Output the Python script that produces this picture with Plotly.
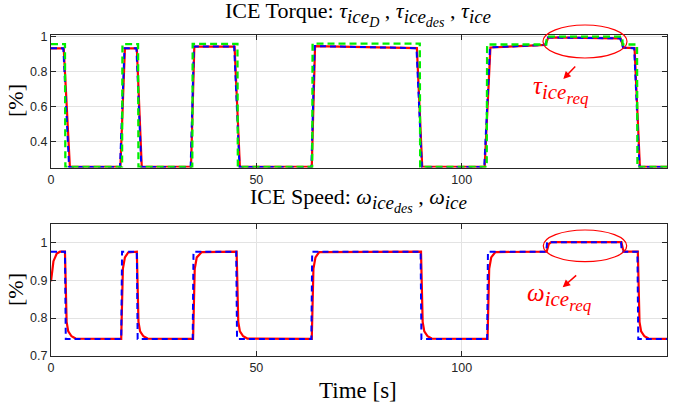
import plotly.graph_objects as go

# ---------------- data ----------------
# Torque plot
t_tauD = [0, 3.4, 3.5, 17.3, 17.4, 21.2, 21.3, 34.4, 34.5, 45.4, 45.5, 63.6, 63.7,
          89.8, 89.9, 106.1, 106.2, 120.6, 120.7, 139.1, 139.2, 142.7, 142.8, 150]
tau_iceD = [0.957, 0.957, 0.257, 0.257, 0.957, 0.957, 0.257, 0.257, 0.958, 0.958, 0.257, 0.257, 0.96,
            0.96, 0.257, 0.257, 0.955, 0.955, 1.0, 1.0, 0.955, 0.955, 0.257, 0.257]

t_tauDes = [0, 3.0, 4.4, 16.8, 17.9, 20.8, 22.0, 34.0, 34.8, 44.6, 45.9, 63.4, 64.2,
            89.0, 90.3, 105.5, 106.9, 120.3, 121.0, 138.6, 139.3, 142.0, 143.3, 150]
tau_ice_des = [0.933, 0.933, 0.257, 0.257, 0.933, 0.933, 0.257, 0.257, 0.943, 0.943, 0.257, 0.257, 0.946,
               0.934, 0.257, 0.257, 0.938, 0.953, 0.995, 0.99, 0.937, 0.934, 0.257, 0.257]

t_tau = [0, 3.1, 4.6, 16.9, 18.0, 20.9, 22.1, 34.1, 34.9, 44.7, 46.0, 63.5, 64.3,
         89.1, 90.4, 105.6, 107.0, 120.4, 121.1, 138.7, 139.4, 142.1, 143.4, 150]
tau_ice = [0.933, 0.933, 0.257, 0.257, 0.933, 0.933, 0.257, 0.257, 0.943, 0.943, 0.257, 0.257, 0.946,
           0.934, 0.257, 0.257, 0.938, 0.953, 0.995, 0.99, 0.937, 0.934, 0.257, 0.257]

# Speed plot
t_wDes = [0, 3.4, 3.6, 17.1, 17.3, 20.9, 21.1, 34.5, 34.7, 45.1, 45.3, 63.4, 63.6,
          90.0, 90.2, 106.2, 106.4, 120.6, 120.8, 138.8, 139.0, 142.8, 143.0, 150]
w_ice_des = [0.975, 0.975, 0.745, 0.745, 0.975, 0.975, 0.745, 0.745, 0.975, 0.975, 0.745, 0.745, 0.975,
             0.975, 0.745, 0.745, 0.975, 0.975, 1.0, 1.0, 0.975, 0.975, 0.745, 0.745]

t_w = [0, 0.6, 1.4, 2.2, 3.4, 3.8, 4.2, 5.0, 6.0, 17.1, 17.5, 18.0, 18.8, 20.9, 21.3, 21.7, 22.5, 23.5,
       34.6, 35.0, 35.5, 36.7, 45.2, 45.6, 46.0, 46.8, 47.8, 63.5, 63.9, 64.4, 65.3, 90.1, 90.5, 90.9,
       91.7, 92.7, 106.3, 106.7, 107.2, 108.2, 120.7, 121.2, 121.8, 138.9, 139.3, 139.8, 142.9, 143.3,
       143.7, 144.5, 145.5, 150]
w_ice = [0.897, 0.95, 0.97, 0.975, 0.975, 0.79, 0.765, 0.752, 0.746, 0.745, 0.93, 0.96, 0.973, 0.975,
         0.79, 0.765, 0.752, 0.746, 0.745, 0.93, 0.96, 0.974, 0.975, 0.79, 0.765, 0.752, 0.746, 0.745,
         0.93, 0.96, 0.974, 0.975, 0.79, 0.765, 0.752, 0.746, 0.745, 0.93, 0.96, 0.974, 0.975, 0.995, 1.0,
         1.0, 0.98, 0.975, 0.975, 0.79, 0.765, 0.752, 0.746, 0.745]

x_ticks = [0, 50, 100, 150]
y1_ticks = [0.4, 0.6, 0.8, 1]
y1_ticktext = ["0.4", "0.6", "0.8", "1"]
y2_ticks = [0.7, 0.8, 0.9, 1]
y2_ticktext = ["0.7", "0.8", "0.9", "1"]

# ---------------- layout helpers ----------------
W, H = 675, 410
ML, MR, MT, MB = 51, 8, 35, 54
PW, PH = W - ML - MR, H - MT - MB
TOP_BOTTOM_PX, BOT_TOP_PX = 167.5, 224


def px(x):
    return (x - ML) / PW


def py(y):
    return (H - MB - y) / PH


def sym(base, sub1, sub2=None, s1=19, s2=14):
    inner = ""
    if sub2:
        inner = f"<sub><span style='font-size:{s2}px'><i>{sub2}</i></span></sub>"
    return f"<i>{base}</i><sub><span style='font-size:{s1}px'><i>{sub1}</i>{inner}</span></sub>"


serif = "Liberation Serif"
sans = "Liberation Sans"
red, blue, green = "#ff0000", "#0000ff", "#00ee00"

fig = go.Figure()
fig.add_trace(go.Scatter(x=t_tau, y=tau_ice, mode="lines", line=dict(color=red, width=2.2),
                         xaxis="x", yaxis="y", showlegend=False))
fig.add_trace(go.Scatter(x=t_tauDes, y=tau_ice_des, mode="lines",
                         line=dict(color=blue, width=2, dash="6px,4px"),
                         xaxis="x", yaxis="y", showlegend=False))
fig.add_trace(go.Scatter(x=t_tauD, y=tau_iceD, mode="lines",
                         line=dict(color=green, width=2.3, dash="7px,4px"),
                         xaxis="x", yaxis="y", showlegend=False))
fig.add_trace(go.Scatter(x=t_w, y=w_ice, mode="lines", line=dict(color=red, width=2.2),
                         xaxis="x2", yaxis="y2", showlegend=False))
fig.add_trace(go.Scatter(x=t_wDes, y=w_ice_des, mode="lines",
                         line=dict(color=blue, width=2, dash="6px,4px"),
                         xaxis="x2", yaxis="y2", showlegend=False))

axis_common = dict(showline=True, linecolor="#262626", linewidth=1, mirror="allticks",
                   ticks="inside", ticklen=5, tickcolor="#262626", showgrid=True,
                   gridcolor="#e3e3e3", gridwidth=1, zeroline=False, automargin=False,
                   tickfont=dict(family=sans, size=12.5, color="#262626"))

fig.update_layout(
    width=W, height=H, margin=dict(l=ML, r=MR, t=MT, b=MB, autoexpand=False),
    paper_bgcolor="white", plot_bgcolor="white",
    xaxis=dict(domain=[0, 1], range=[0, 150], tickvals=x_ticks, anchor="y", **axis_common),
    yaxis=dict(domain=[py(TOP_BOTTOM_PX), 1], range=[0.254, 1.009], tickvals=y1_ticks,
               ticktext=y1_ticktext, anchor="x", **axis_common),
    xaxis2=dict(domain=[0, 1], range=[0, 150], tickvals=x_ticks, anchor="y2", **axis_common),
    yaxis2=dict(domain=[0, py(BOT_TOP_PX)], range=[0.7, 1.048], tickvals=y2_ticks,
                ticktext=y2_ticktext, anchor="x2", **axis_common),
)

ann = []
ann.append(dict(xref="paper", yref="paper", x=px(358), y=py(14), xanchor="center", yanchor="middle",
                showarrow=False, font=dict(family=serif, size=22, color="black"),
                text="ICE Torque: " + sym("τ", "ice", "D") + " , " + sym("τ", "ice", "des") + " , "
                     + sym("τ", "ice")))
ann.append(dict(xref="paper", yref="paper", x=px(358), y=py(200), xanchor="center", yanchor="middle",
                showarrow=False, font=dict(family=serif, size=22, color="black"),
                text="ICE Speed: " + sym("ω", "ice", "des") + " , " + sym("ω", "ice")))
ann.append(dict(xref="paper", yref="paper", x=px(358), y=py(391), xanchor="center", yanchor="middle",
                showarrow=False, font=dict(family=serif, size=23, color="black"), text="Time [s]"))
for yc in (101, 290):
    ann.append(dict(xref="paper", yref="paper", x=px(15), y=py(yc), xanchor="center", yanchor="middle",
                    showarrow=False, textangle=-90, font=dict(family=serif, size=22, color="black"),
                    text="[%]"))
# red labels + arrows
ann.append(dict(xref="paper", yref="paper", x=px(561), y=py(90), xanchor="center", yanchor="middle",
                showarrow=False, font=dict(family=serif, size=25, color=red),
                text=sym("τ", "ice", "req", s1=21, s2=17)))
ann.append(dict(xref="paper", yref="paper", x=px(559), y=py(297), xanchor="center", yanchor="middle",
                showarrow=False, font=dict(family=serif, size=25, color=red),
                text=sym("ω", "ice", "req", s1=21, s2=17)))
for (hx, hy, tx, ty) in [(563.3, 79, 576.7, 65), (562.7, 287.3, 577.7, 274)]:
    ann.append(dict(xref="paper", yref="paper", x=px(hx), y=py(hy), ax=tx - hx, ay=ty - hy,
                    axref="pixel", ayref="pixel", text="", showarrow=True, arrowhead=2,
                    arrowsize=1, arrowwidth=1.5, arrowcolor=red))
fig.update_layout(annotations=ann)

shapes = []
for (x0, y0, x1, y1) in [(543, 25, 627, 58), (543.3, 230, 626.7, 261.7)]:
    shapes.append(dict(type="circle", xref="paper", yref="paper", x0=px(x0), x1=px(x1),
                       y0=py(y1), y1=py(y0), line=dict(color=red, width=1.2)))
fig.update_layout(shapes=shapes)

fig.write_html("out.html", config={"displayModeBar": False},
               post_script="document.body.style.margin='0';document.body.style.padding='0';")
